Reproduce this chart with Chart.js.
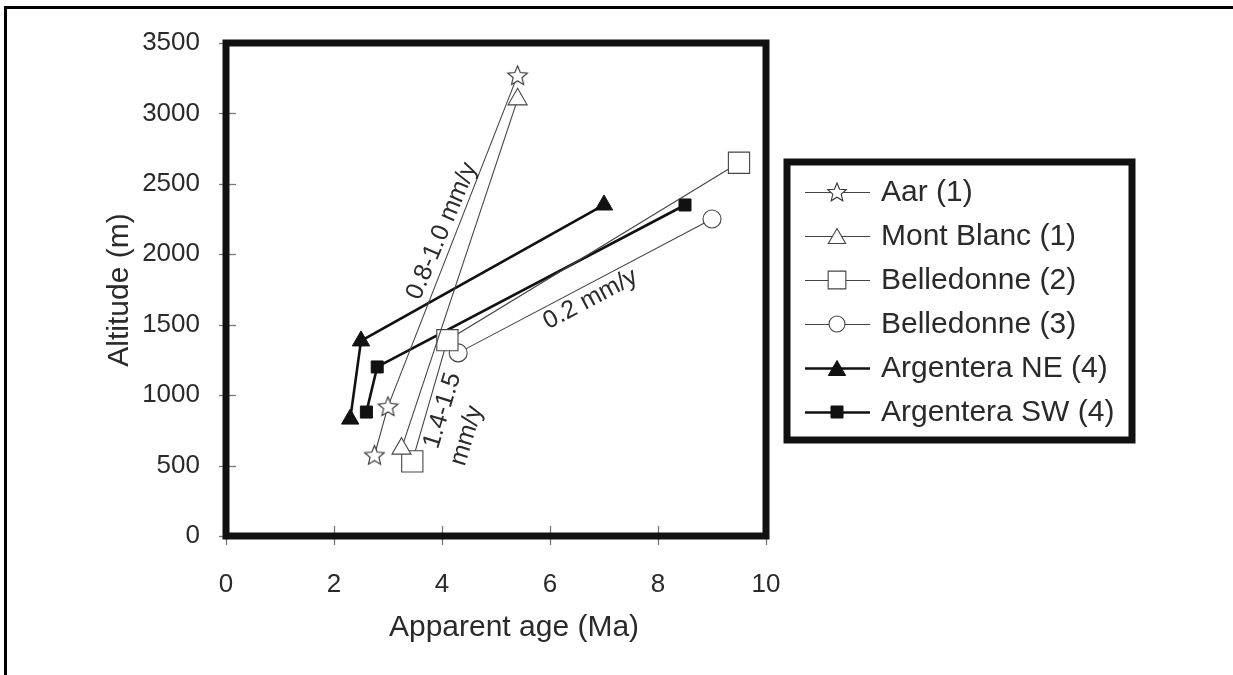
<!DOCTYPE html>
<html>
<head>
<meta charset="utf-8">
<script src="https://cdn.jsdelivr.net/npm/chart.js@4.4.1/dist/chart.umd.min.js"></script>
<style>
html,body{margin:0;padding:0;background:#fff;}
#wrap{position:relative;width:1233px;height:675px;}
</style>
</head>
<body>
<div id="wrap"><canvas id="c" width="1233" height="675"></canvas></div>
<script>
// ---------- DATA ----------
const seriesNames = ['Aar (1)', 'Mont Blanc (1)', 'Belledonne (2)', 'Belledonne (3)', 'Argentera NE (4)', 'Argentera SW (4)'];
const aarAge    = [2.75, 3.0, 5.4];
const aarAlt    = [575, 920, 3270];
const mbAge     = [3.25, 5.4];
const mbAlt     = [620, 3100];
const bel2Age   = [3.45, 4.1, 9.5];
const bel2Alt   = [530, 1390, 2650];
const bel3Age   = [4.3, 9.0];
const bel3Alt   = [1300, 2250];
const argNEAge  = [2.3, 2.5, 7.0];
const argNEAlt  = [830, 1385, 2350];
const argSWAge  = [2.6, 2.8, 8.5];
const argSWAlt  = [880, 1200, 2350];
const xTickValues = [0, 2, 4, 6, 8, 10];
const yTickValues = [0, 500, 1000, 1500, 2000, 2500, 3000, 3500];
const xTitle = 'Apparent age (Ma)';
const yTitle = 'Altitude (m)';
const rateLabels = ['0.8-1.0 mm/y', '0.2 mm/y', '1.4-1.5', 'mm/y'];
const rateLabelAge = [4.0, 6.75, 4.01, 4.46];
const rateLabelAlt = [2165, 1680, 890, 712];

// ---------- STYLE ----------
const FONT = '"Liberation Sans", Arial, sans-serif';
const TXT = '#2a2a2a';
const rateLabelAngle = [-67, -28, -73, -73];

function makeStar(size) {
  const c = document.createElement('canvas');
  c.width = size; c.height = size;
  const g = c.getContext('2d');
  const cx = size / 2, cy = size / 2 + 0.8;
  const R = size / 2 - 1.2, r = R * 0.45;
  g.beginPath();
  for (let i = 0; i < 10; i++) {
    const a = -Math.PI / 2 + i * Math.PI / 5;
    const rr = i % 2 === 0 ? R : r;
    const px = cx + rr * Math.cos(a), py = cy + rr * Math.sin(a);
    if (i === 0) g.moveTo(px, py); else g.lineTo(px, py);
  }
  g.closePath();
  g.fillStyle = '#fff'; g.fill();
  g.lineWidth = 1.1; g.strokeStyle = '#333'; g.stroke();
  return c;
}
const starBig = makeStar(23);
const starLegend = makeStar(22);

function pts(xs, ys) { return xs.map((x, i) => ({x: x, y: ys[i]})); }

const thin = {borderColor: '#444', borderWidth: 1.1, pointBorderColor: '#444', pointBackgroundColor: '#fff', pointBorderWidth: 1.1};
const thick = {borderColor: '#111', borderWidth: 2.6, pointBorderColor: '#111', pointBackgroundColor: '#111', pointBorderWidth: 1};

const datasets = [
  Object.assign({label: seriesNames[0], data: pts(aarAge, aarAlt), pointStyle: starBig, pointRadius: 11, legendStyle: starLegend, legendRadius: 10}, thin),
  Object.assign({label: seriesNames[1], data: pts(mbAge, mbAlt), pointStyle: 'triangle', pointRadius: 11, legendStyle: 'triangle', legendRadius: 10}, thin),
  Object.assign({label: seriesNames[2], data: pts(bel2Age, bel2Alt), pointStyle: 'rect', pointRadius: 15, legendStyle: 'rect', legendRadius: 12.5}, thin),
  Object.assign({label: seriesNames[3], data: pts(bel3Age, bel3Alt), pointStyle: 'circle', pointRadius: 9, legendStyle: 'circle', legendRadius: 8}, thin),
  Object.assign({label: seriesNames[4], data: pts(argNEAge, argNEAlt), pointStyle: 'triangle', pointRadius: 10, legendStyle: 'triangle', legendRadius: 10}, thick),
  Object.assign({label: seriesNames[5], data: pts(argSWAge, argSWAlt), pointStyle: 'rect', pointRadius: 8.5, legendStyle: 'rect', legendRadius: 8.5}, thick)
];
datasets.forEach(d => { d.showLine = true; d.fill = false; d.tension = 0; d.pointHoverRadius = d.pointRadius; });

const legendBox = {left: 787, top: 162, right: 1132, bottom: 440, rowTop: 192, rowStep: 44, lineX0: 805, lineX1: 870, markX: 837, textX: 881};

function drawShape(ctx, style, r, x, y) {
  if (style === 'circle') { ctx.arc(x, y, r, 0, Math.PI * 2); }
  else if (style === 'rect') { const s = r / Math.SQRT2; ctx.rect(x - s, y - s, 2 * s, 2 * s); }
  else if (style === 'triangle') {
    for (let k = 0; k < 3; k++) {
      const ang = -Math.PI / 2 + k * 2 * Math.PI / 3;
      const px = x + r * Math.cos(ang), py = y + r * Math.sin(ang) + r * 0.25;
      if (k === 0) ctx.moveTo(px, py); else ctx.lineTo(px, py);
    }
    ctx.closePath();
  }
}

const decor = {
  id: 'decor',
  beforeDraw(chart) {
    const ctx = chart.ctx;
    ctx.save();
    ctx.fillStyle = '#fff';
    ctx.fillRect(0, 0, chart.width, chart.height);
    ctx.fillStyle = '#000';
    ctx.fillRect(5, 6, chart.width - 5, 3);
    ctx.fillRect(4, 6, 3, chart.height - 6);
    ctx.restore();
  },
  afterDatasetsDraw(chart) {
    const ctx = chart.ctx;
    const a = chart.chartArea;
    const xs = chart.scales.x, ys = chart.scales.y;
    ctx.save();
    ctx.strokeStyle = '#777';
    ctx.lineWidth = 1.3;
    xTickValues.forEach(v => {
      const px = Math.round(xs.getPixelForValue(v)) + 0.5;
      ctx.beginPath(); ctx.moveTo(px, a.bottom - 10); ctx.lineTo(px, a.bottom + 9); ctx.stroke();
    });
    yTickValues.forEach(v => {
      const py = Math.round(ys.getPixelForValue(v)) + 0.5;
      ctx.beginPath(); ctx.moveTo(a.left - 7, py); ctx.lineTo(a.left + 10, py); ctx.stroke();
    });
    ctx.strokeStyle = '#111';
    ctx.lineWidth = 7;
    ctx.strokeRect(a.left, a.top, a.right - a.left, a.bottom - a.top);
    ctx.fillStyle = TXT;
    ctx.font = '25px ' + FONT;
    ctx.textAlign = 'center';
    ctx.textBaseline = 'middle';
    rateLabels.forEach((t, i) => {
      const px = xs.getPixelForValue(rateLabelAge[i]);
      const py = ys.getPixelForValue(rateLabelAlt[i]);
      ctx.save();
      ctx.translate(px, py);
      ctx.rotate(rateLabelAngle[i] * Math.PI / 180);
      ctx.fillText(t, 0, 0);
      ctx.restore();
    });
    ctx.font = '30px ' + FONT;
    ctx.fillText(xTitle, 514, 628);
    ctx.save();
    ctx.translate(120, 290);
    ctx.rotate(-Math.PI / 2);
    ctx.fillText(yTitle, 0, 0);
    ctx.restore();
    const L = legendBox;
    ctx.fillStyle = '#fff';
    ctx.fillRect(L.left, L.top, L.right - L.left, L.bottom - L.top);
    ctx.strokeStyle = '#111';
    ctx.lineWidth = 7;
    ctx.strokeRect(L.left, L.top, L.right - L.left, L.bottom - L.top);
    chart.data.datasets.forEach((d, i) => {
      const y = L.rowTop + i * L.rowStep;
      ctx.strokeStyle = d.borderColor;
      ctx.lineWidth = d.borderWidth;
      ctx.beginPath(); ctx.moveTo(L.lineX0, y + 0.5); ctx.lineTo(L.lineX1, y + 0.5); ctx.stroke();
      if (typeof d.legendStyle === 'string') {
        ctx.fillStyle = d.pointBackgroundColor;
        ctx.strokeStyle = d.pointBorderColor;
        ctx.lineWidth = d.pointBorderWidth;
        ctx.beginPath();
        drawShape(ctx, d.legendStyle, d.legendRadius, L.markX, y);
        ctx.fill(); ctx.stroke();
      } else {
        ctx.drawImage(d.legendStyle, L.markX - d.legendStyle.width / 2, y - d.legendStyle.height / 2);
      }
      ctx.fillStyle = TXT;
      ctx.font = '30px ' + FONT;
      ctx.textAlign = 'left';
      ctx.textBaseline = 'middle';
      ctx.fillText(d.label, L.textX, y + 1);
    });
    ctx.restore();
  }
};

new Chart(document.getElementById('c'), {
  type: 'scatter',
  data: {datasets: datasets},
  options: {
    responsive: false,
    animation: false,
    devicePixelRatio: 1,
    layout: {padding: {left: 0, top: 43, right: 467, bottom: 0}},
    plugins: {legend: {display: false}, tooltip: {enabled: false}},
    scales: {
      x: {
        type: 'linear', min: 0, max: 10,
        afterBuildTicks: s => { s.ticks = xTickValues.map(v => ({value: v})); },
        afterFit: s => { s.height = 139; },
        grid: {display: false, drawTicks: false},
        border: {display: false},
        ticks: {font: {family: FONT, size: 26}, color: TXT, padding: 33, callback: v => String(v)}
      },
      y: {
        type: 'linear', min: 0, max: 3500,
        afterBuildTicks: s => { s.ticks = yTickValues.map(v => ({value: v})); },
        afterFit: s => { s.width = 226; },
        grid: {display: false, drawTicks: false},
        border: {display: false},
        ticks: {font: {family: FONT, size: 26}, color: TXT, padding: 26, callback: v => String(v)}
      }
    }
  },
  plugins: [decor]
});
</script>
</body>
</html>
